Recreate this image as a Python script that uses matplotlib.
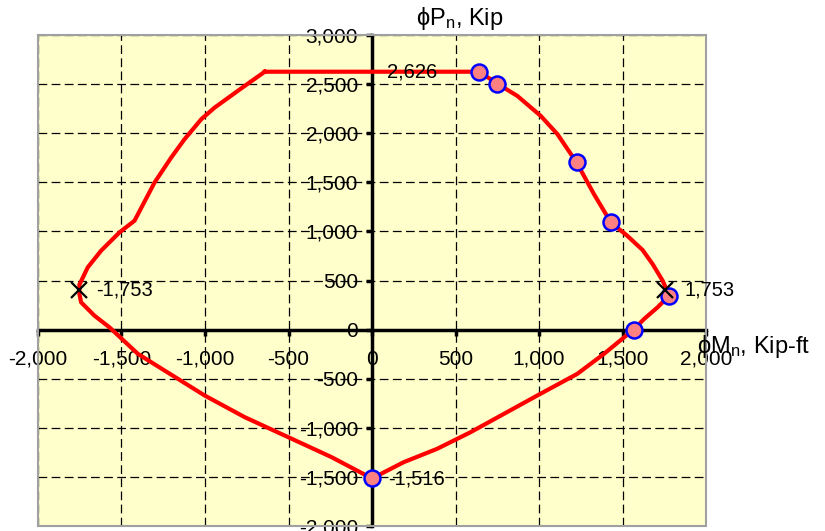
import matplotlib
matplotlib.use("Agg")
import matplotlib.pyplot as plt
from matplotlib.ticker import FuncFormatter, MultipleLocator
from matplotlib.patches import Rectangle

plt.rcParams['font.family'] = ['Liberation Sans', 'DejaVu Sans']
plt.rcParams['mathtext.fontset'] = 'custom'
plt.rcParams['mathtext.rm'] = 'Liberation Sans'
plt.rcParams['mathtext.it'] = 'Liberation Sans'

# Interaction diagram outline (phiMn, phiPn)
curve_M = [-642, 642, 754, 870, 1010, 1110, 1225, 1329, 1430, 1528, 1620, 1680,
           1740, 1780, 1710, 1630, 1566, 1389, 1229, 990, 790, 590, 390, 190, 0,
           -242, -502, -762, -1002, -1242, -1402, -1572, -1662, -1742, -1752,
           -1752, -1702, -1622, -1512, -1422, -1302, -1202, -1122, -1022, -942,
           -762, -642]
curve_P = [2626, 2626, 2500, 2380, 2177, 1991, 1702, 1380, 1092, 956, 811, 668,
           499, 346, 227, 109, 0, -247, -451, -671, -858, -1045, -1214, -1350,
           -1516, -1299, -1095, -892, -671, -417, -247, 23, 142, 278, 363,
           458, 634, 804, 990, 1109, 1498, 1753, 1940, 2143, 2261,
           2482, 2626]

# Computed points
pts_M = [642, 750, 1225, 1430, 1780, 1566, 0]
pts_P = [2626, 2500, 1702, 1092, 346, 0, -1516]

# Balanced points
bal_M = [1753, -1753]
bal_P = [405, 405]
bal_labels = ["1,753", "-1,753"]

fig = plt.figure(figsize=(8.25, 5.31), dpi=100)
ax = fig.add_axes([38/825, 5/531, (706-38)/825, (525-34)/531])
ax.set_facecolor('#FFFFCC')
ax.set_xlim(-2000, 2000)
ax.set_ylim(-2000, 3000)

ax.xaxis.set_major_locator(MultipleLocator(500))
ax.yaxis.set_major_locator(MultipleLocator(500))
fmt = FuncFormatter(lambda v, p: f"{v:,.0f}")
ax.xaxis.set_major_formatter(fmt)
ax.yaxis.set_major_formatter(fmt)

ax.grid(True, color='black', linestyle=(0, (7, 3.5)), linewidth=0.9)
ax.set_axisbelow(True)

for s in ['top', 'right']:
    ax.spines[s].set_visible(False)
for s in ['left', 'bottom']:
    ax.spines[s].set_position('zero')
    ax.spines[s].set_linewidth(2.5)
    ax.spines[s].set_color('black')
    ax.spines[s].set_zorder(2.5)

ax.add_patch(Rectangle((0, 0), 1, 1, transform=ax.transAxes, fill=False,
                       edgecolor='#A0A0A0', linewidth=1.5, zorder=5, clip_on=False))

ax.tick_params(axis='x', direction='out', length=4, width=2.5, pad=10.5,
               labelsize=15, colors='black')
ax.tick_params(axis='y', direction='out', length=4, width=2.5, pad=6,
               labelsize=15, colors='black')

ax.plot(curve_M, curve_P, color='red', linewidth=3, zorder=3, solid_joinstyle='round')
ax.plot(pts_M, pts_P, linestyle='none', marker='o', markersize=11.5,
        markerfacecolor='#FF8080', markeredgecolor='blue', markeredgewidth=1.8,
        zorder=4)
ax.plot(bal_M, bal_P, linestyle='none', marker='x', markersize=12,
        markeredgecolor='black', markeredgewidth=1.6, zorder=4)

ax.text(1869, 405, bal_labels[0], fontsize=14.5, ha='left', va='center', zorder=6)
ax.text(-1650, 405, bal_labels[1], fontsize=14.5, ha='left', va='center', zorder=6)
ax.text(392, 2626, "2,626", fontsize=14.5, ha='right', va='center', zorder=6)
ax.text(98, -1525, "-1,516", fontsize=14.5, ha='left', va='center', zorder=6)

fig.text(460/825, 1 - 19/531, r'ϕP$_{\rm n}$, Kip', fontsize=17,
         ha='center', va='center')
fig.text(697/825, 1 - 347/531, r'ϕM$_{\rm n}$, Kip-ft', fontsize=17,
         ha='left', va='center')

fig.savefig('out.png', dpi=100)
